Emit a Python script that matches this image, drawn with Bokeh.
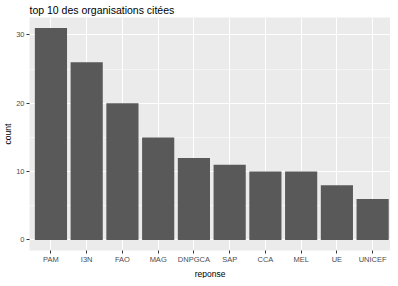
from bokeh.plotting import figure
from bokeh.models import Range1d, FixedTicker, ColumnDataSource, Title
from bokeh.embed import file_html
from bokeh.resources import INLINE

categories = ["PAM", "I3N", "FAO", "MAG", "DNPGCA", "SAP", "CCA", "MEL", "UE", "UNICEF"]
counts = [31, 26, 20, 15, 12, 11, 10, 10, 8, 6]
y_ticks = [0, 10, 20, 30]
y_minor = [5, 15, 25]

pos = list(range(1, len(categories) + 1))
src = ColumnDataSource(dict(x=pos, top=counts, cat=categories))

x_start, x_end = 0.4, len(categories) + 0.5
p = figure(width=390, height=278, output_backend="svg", toolbar_location=None,
           x_range=Range1d(x_start, x_end),
           y_range=Range1d(-0.05 * max(counts), max(counts) * 1.05),
           title="top 10 des organisations citées",
           min_border_left=0, min_border_right=0, min_border_top=0, min_border_bottom=0)

p.background_fill_color = "#EBEBEB"
p.border_fill_color = "white"
p.outline_line_color = None

p.vbar(x="x", top="top", bottom=0, width=0.9, source=src, fill_color="#595959", line_color=None)

p.title.text_font = "Liberation Sans"
p.title.text_font_size = "10.5px"
p.title.text_font_style = "normal"
p.title.text_color = "black"
p.title.standoff = 3
p.title.offset = 0

p.xaxis.ticker = FixedTicker(ticks=pos)
p.xaxis.major_label_overrides = {i: c for i, c in zip(pos, categories)}
p.yaxis.ticker = FixedTicker(ticks=y_ticks, minor_ticks=y_minor)

for ax in (p.xaxis[0], p.yaxis[0]):
    ax.axis_line_color = None
    ax.major_tick_line_color = "#333333"
    ax.major_tick_in = 0
    ax.major_tick_out = 3
    ax.minor_tick_line_color = None
    ax.major_label_text_font = "Liberation Sans"
    ax.major_label_text_font_size = "7.5px"
    ax.major_label_text_color = "#4D4D4D"
    ax.major_label_standoff = 1
    ax.major_label_text_line_height = 0.9
    ax.axis_label_text_font = "Liberation Sans"
    ax.axis_label_text_font_size = "8.5px"
    ax.axis_label_text_font_style = "normal"
    ax.axis_label_text_color = "black"
    ax.axis_label_standoff = 0

p.yaxis.axis_label = "count"

p.add_layout(Title(text="reponse", align="center", text_font="Liberation Sans",
                   text_font_size="8.5px", text_font_style="normal", text_color="black",
                   text_line_height=0.9, standoff=0, offset=0), "below")

p.xgrid.grid_line_color = "white"
p.xgrid.grid_line_width = 1
p.ygrid.grid_line_color = "white"
p.ygrid.grid_line_width = 1
p.ygrid.minor_grid_line_color = "white"
p.ygrid.minor_grid_line_width = 0.5

open("out.html", "w").write(file_html(p, INLINE))
